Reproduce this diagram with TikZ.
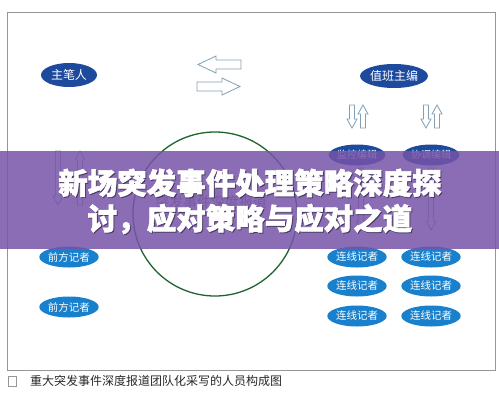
\documentclass[tikz,border=0pt]{standalone}
\usepackage{fontspec}
\newfontfamily\cjk{Noto Sans CJK SC}
\newfontfamily\cjkheavy{Noto Sans CJK SC}[BoldFeatures={FakeBold=2}]
\usetikzlibrary{shapes.geometric}
\definecolor{framegray}{RGB}{150,150,150}
\definecolor{darkblue}{RGB}{30,74,158}
\definecolor{midblue}{RGB}{24,128,204}
\definecolor{arrowgray}{RGB}{130,160,180}
\definecolor{circgreen}{RGB}{30,100,45}
\definecolor{banner}{RGB}{118,84,168}
\definecolor{captext}{RGB}{40,40,40}
\newcommand\myDn[3]{\draw[harrow] ({#1-2.5},#2) -- ({#1+2.5},#2) -- ({#1+2.5},{#3-9}) -- ({#1+5},{#3-9}) -- (#1,#3) -- ({#1-5},{#3-9}) -- ({#1-2.5},{#3-9}) -- cycle;}
\newcommand\myUp[3]{\draw[harrow] ({#1-2.5},#3) -- ({#1+2.5},#3) -- ({#1+2.5},{#2+9}) -- ({#1+5},{#2+9}) -- (#1,#2) -- ({#1-5},{#2+9}) -- ({#1-2.5},{#2+9}) -- cycle;}
\tikzset{
  harrow/.style={draw=arrowgray, line width=0.8pt, fill=white},
  darkell/.style={ellipse, fill=darkblue, text=white, inner sep=0pt, minimum width=56pt, minimum height=24pt, font=\cjk\fontsize{12}{12}\selectfont},
  lightell/.style={ellipse, fill=midblue, text=white, inner sep=0pt, minimum width=55pt, minimum height=21pt, font=\cjk\fontsize{10.5}{10.5}\selectfont},
  bannertext/.style={font=\cjkheavy\bfseries\fontsize{29.5}{29.5}\selectfont},
}
\begin{document}
\begin{tikzpicture}[x=1pt,y=-1pt]
\useasboundingbox (0,0) rectangle (499,400);
\fill[white] (0,0) rectangle (499,400);
\draw[framegray, line width=0.9pt] (7,12) rectangle (495,370);
% top row
\node[darkell] (zb) at (69,75) {主笔人};
\node[darkell, minimum width=63pt] (zbzb) at (394,76) {值班主编};
\draw[harrow] (198,64.5) -- (216,56) -- (216,60) -- (241,60) -- (241,69) -- (216,69) -- (216,73) -- cycle;
\draw[harrow] (240,86.5) -- (222,78) -- (222,82) -- (197,82) -- (197,91) -- (222,91) -- (222,95) -- cycle;
\myDn{352}{105}{128}
\myUp{363}{105}{128}
\myDn{426}{105}{128}
\myUp{437}{105}{128}
% circle
\draw[circgreen, line width=1.3pt] (215,214) circle (82);
\node[text=gray, font=\cjk\fontsize{14}{14}\selectfont] (ctext) at (211,202) {突发事件深度报道};
% middle row
\node[darkell, minimum width=53pt, minimum height=21pt, font=\cjk\fontsize{10}{10}\selectfont] (jk) at (357,155) {监控编辑};
\node[darkell, minimum width=54pt, minimum height=21pt, font=\cjk\fontsize{10}{10}\selectfont] (xt) at (431,155) {协调编辑};
\myDn{58}{151}{205}
\myUp{80}{151}{205}
\myDn{361}{168}{230}
\myDn{431}{168}{230}
% reporters
\node[lightell] (qf1) at (69,257) {前方记者};
\node[lightell] (qf2) at (69,307) {前方记者};
\node[lightell] (lx1) at (357,257) {连线记者};
\node[lightell] (lx2) at (431,257) {连线记者};
\node[lightell] (lx3) at (357,286) {连线记者};
\node[lightell] (lx4) at (431,286) {连线记者};
\node[lightell] (lx5) at (357,316) {连线记者};
\node[lightell] (lx6) at (431,316) {连线记者};
% caption
\draw[framegray, line width=0.7pt] (8,376) rectangle (16,386);
\node[anchor=west, text=captext, inner sep=0pt, font=\cjk\fontsize{12}{12}\selectfont] (cap) at (30,381) {重大突发事件深度报道团队化采写的人员构成图};
% banner
\fill[banner, opacity=0.85] (0,151) rectangle (499,249);
\node[text=black, opacity=0.35, bannertext] (t1s) at (251,184) {新场突发事件处理策略深度探};
\node[text=black, opacity=0.35, bannertext] (t2s) at (251,220) {讨，应对策略与应对之道};
\node[text=white, bannertext] (t1) at (250,183) {新场突发事件处理策略深度探};
\node[text=white, bannertext] (t2) at (250,219) {讨，应对策略与应对之道};
\end{tikzpicture}
\end{document}
